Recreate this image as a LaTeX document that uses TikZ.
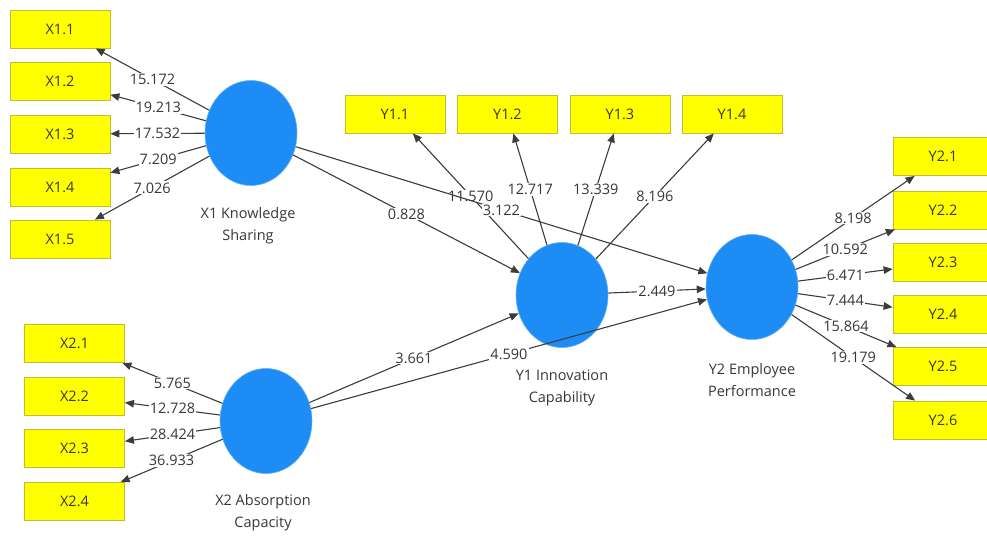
\documentclass[tikz,border=0pt]{standalone}
\usepackage{fontspec}
\setmainfont{Open Sans}
\usetikzlibrary{shapes.geometric,arrows.meta}
\definecolor{boxyellow}{RGB}{255,255,0}
\definecolor{boxedge}{RGB}{190,190,50}
\definecolor{lvblue}{RGB}{30,140,245}
\definecolor{linegray}{RGB}{60,60,60}
\definecolor{txtgray}{RGB}{55,55,55}
\begin{document}
\begin{tikzpicture}[x=1pt,y=-1pt,
  ind/.style={rectangle,draw=boxedge,line width=0.8pt,fill=boxyellow,minimum width=100pt,minimum height=38pt,inner sep=0pt,text=txtgray,font=\fontsize{14.5}{16}\selectfont},
  lv/.style={ellipse,fill=lvblue,draw=lvblue!70!white,line width=0.6pt,minimum width=92pt,minimum height=105pt,inner sep=0pt},
  lvname/.style={align=center,text=txtgray,font=\fontsize{14.5}{22}\selectfont},
  arr/.style={draw=linegray,line width=1.1pt,-{Triangle[length=9pt,width=7.5pt]}},
  lbl/.style={fill=white,inner sep=1pt,text=txtgray,font=\fontsize{14.5}{16}\selectfont}]
\useasboundingbox (0,0) rectangle (987,536);
% indicator boxes
\node[ind] (X11) at (60,29) {X1.1};
\node[ind] (X12) at (60,81) {X1.2};
\node[ind] (X13) at (60,134) {X1.3};
\node[ind] (X14) at (60,187) {X1.4};
\node[ind] (X15) at (60,239) {X1.5};
\node[ind] (X21) at (74.5,343.5) {X2.1};
\node[ind] (X22) at (74.5,396) {X2.2};
\node[ind] (X23) at (74.5,448.5) {X2.3};
\node[ind] (X24) at (74.5,501.5) {X2.4};
\node[ind] (Y11) at (395,114) {Y1.1};
\node[ind] (Y12) at (507.5,114) {Y1.2};
\node[ind] (Y13) at (620,114) {Y1.3};
\node[ind] (Y14) at (732,114) {Y1.4};
\node[ind] (Y21) at (943,156.5) {Y2.1};
\node[ind] (Y22) at (943,210) {Y2.2};
\node[ind] (Y23) at (943,262.5) {Y2.3};
\node[ind] (Y24) at (943,314.5) {Y2.4};
\node[ind] (Y25) at (943,366.5) {Y2.5};
\node[ind] (Y26) at (943,420) {Y2.6};
% latent variables
\node[lv] (X1) at (251,133) {};
\node[lv] (X2) at (266,421) {};
\node[lv] (Y1) at (562,295) {};
\node[lv] (Y2) at (752,287) {};
\node[lvname] (X1n) at (248,226) {X1 Knowledge\\Sharing};
\node[lvname] (X2n) at (263,513) {X2 Absorption\\Capacity};
\node[lvname] (Y1n) at (562,388) {Y1 Innovation\\Capability};
\node[lvname] (Y2n) at (752,380) {Y2 Employee\\Performance};
% outer loadings
\draw[arr] (X1) -- node[lbl]{15.172} (X11);
\draw[arr] (X1) -- node[lbl]{19.213} (X12);
\draw[arr] (X1) -- node[lbl]{17.532} (X13);
\draw[arr] (X1) -- node[lbl]{7.209} (X14);
\draw[arr] (X1) -- node[lbl]{7.026} (X15);
\draw[arr] (X2) -- node[lbl]{5.765} (X21);
\draw[arr] (X2) -- node[lbl]{12.728} (X22);
\draw[arr] (X2) -- node[lbl]{28.424} (X23);
\draw[arr] (X2) -- node[lbl]{36.933} (X24);
\draw[arr] (Y1) -- node[lbl]{11.570} (Y11);
\draw[arr] (Y1) -- node[lbl]{12.717} (Y12);
\draw[arr] (Y1) -- node[lbl]{13.339} (Y13);
\draw[arr] (Y1) -- node[lbl]{8.196} (Y14);
\draw[arr] (Y2) -- node[lbl]{8.198} (Y21);
\draw[arr] (Y2) -- node[lbl]{10.592} (Y22);
\draw[arr] (Y2) -- node[lbl]{6.471} (Y23);
\draw[arr] (Y2) -- node[lbl]{7.444} (Y24);
\draw[arr] (Y2) -- node[lbl]{15.864} (Y25);
\draw[arr] (Y2) -- node[lbl]{19.179} (Y26);
% structural paths
\draw[arr] (X1) -- node[lbl]{0.828} (Y1);
\draw[arr] (X1) -- node[lbl]{3.122} (Y2);
\draw[arr] (X2) -- node[lbl]{3.661} (Y1);
\draw[arr] (X2) -- node[lbl]{4.590} (Y2);
\draw[arr] (Y1) -- node[lbl]{2.449} (Y2);
\end{tikzpicture}
\end{document}
